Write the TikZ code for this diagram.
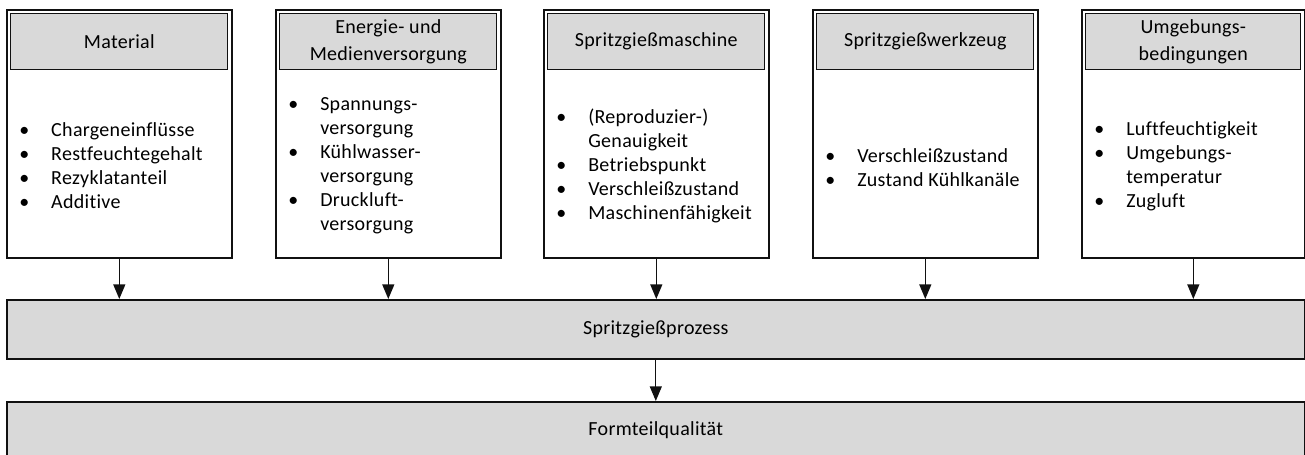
\documentclass[tikz,border=0pt]{standalone}
\usepackage{fontspec}
\setmainfont[Ligatures=NoCommon, LetterSpace=1.5]{Carlito}
\usetikzlibrary{arrows.meta}
\definecolor{hdrgray}{HTML}{D9D9D9}
\definecolor{linecol}{HTML}{111111}
\newcommand{\bul}{\makebox[24pt][l]{•}}
\newcommand{\cont}{\hspace*{24pt}}
\begin{document}
\begin{tikzpicture}[x=0.75pt,y=-0.75pt,
  outerbox/.style={draw=linecol, line width=1.2pt, fill=white, anchor=north west,
    minimum width=225*0.75pt, minimum height=248*0.75pt, inner sep=0pt},
  hdrbox/.style={draw=linecol, line width=1.0pt, fill=hdrgray, anchor=north,
    minimum width=217*0.75pt, minimum height=56*0.75pt, inner sep=0pt, align=center,
    font=\fontsize{15}{20}\selectfont},
  listtext/.style={anchor=west, inner sep=0pt, align=left,
    font=\fontsize{15}{18}\selectfont},
  widebox/.style={draw=linecol, line width=1.2pt, fill=hdrgray, anchor=north west,
    minimum width=1298*0.75pt, inner sep=0pt, font=\fontsize{15}{18}\selectfont},
  arr/.style={-{Triangle[length=11pt,width=9pt]}, line width=1pt, draw=linecol}]
\useasboundingbox (0,0) rectangle (1305,454);

% outer boxes
\node[outerbox] (b1) at (6,9) {};
\node[outerbox] (b2) at (275,9) {};
\node[outerbox] (b3) at (543,9) {};
\node[outerbox] (b4) at (812,9) {};
\node[outerbox, minimum width=223*0.75pt] (b5) at (1081,9) {};

% headers
\node[hdrbox] (h1) at ([yshift=-4*0.75pt]b1.north) {Material};
\node[hdrbox] (h2) at ([yshift=-4*0.75pt]b2.north) {Energie- und\\Medienversorgung};
\node[hdrbox] (h3) at ([yshift=-4*0.75pt]b3.north) {Spritzgießmaschine};
\node[hdrbox] (h4) at ([yshift=-4*0.75pt]b4.north) {Spritzgießwerkzeug};
\node[hdrbox, minimum width=215*0.75pt] (h5) at ([yshift=-4*0.75pt]b5.north) {Umgebungs-\\bedingungen};

% lists
\node[listtext] (l1) at (19,166) {\bul Chargeneinflüsse\\\bul Restfeuchtegehalt\\\bul Rezyklatanteil\\\bul Additive};
\node[listtext] (l2) at (288,166) {\bul Spannungs-\\\cont versorgung\\\bul Kühlwasser-\\\cont versorgung\\\bul Druckluft-\\\cont versorgung};
\node[listtext] (l3) at (556,166) {\bul (Reproduzier-)\\\cont Genauigkeit\\\bul Betriebspunkt\\\bul Verschleißzustand\\\bul Maschinenfähigkeit};
\node[listtext] (l4) at (825,168) {\bul Verschleißzustand\\\bul Zustand Kühlkanäle};
\node[listtext] (l5) at (1094,166) {\bul Luftfeuchtigkeit\\\bul Umgebungs-\\\cont temperatur\\\bul Zugluft};

% wide boxes
\node[widebox, minimum height=59*0.75pt] (proc) at (6,299) {Spritzgießprozess};
\node[widebox, minimum height=57*0.75pt] (qual) at (6,401) {Formteilqualität};

% arrows
\foreach \b in {b1,b2,b3,b4,b5}
  \draw[arr] (\b.south) -- (\b.south |- proc.north);
\draw[arr] (proc.south) -- (proc.south |- qual.north);
\end{tikzpicture}
\end{document}
